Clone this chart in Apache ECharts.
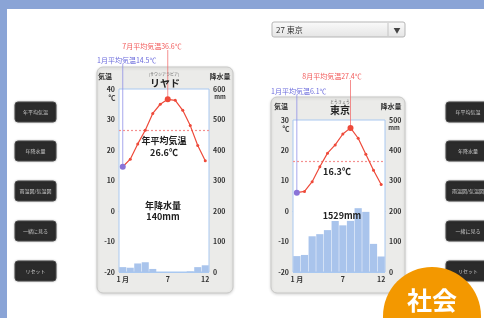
<!DOCTYPE html>
<html>
<head>
<meta charset="utf-8">
<script src="https://cdn.jsdelivr.net/npm/echarts@6/dist/echarts.min.js"></script>
<style>
  html, body { margin: 0; padding: 0; background: #fff; }
  #main { width: 484px; height: 318px; }
</style>
</head>
<body>
<div id="main"></div>
<script>
// ========== データ ==========
const months = ["1", "2", "3", "4", "5", "6", "7", "8", "9", "10", "11", "12"];
const monthLabels = ["1 月", "", "", "", "", "", "7", "", "", "", "", "12"];

// リヤド
const riyadhTemp = [14.5, 17.0, 22.0, 26.5, 32.0, 35.0, 36.6, 36.3, 33.0, 28.0, 21.5, 16.5];
const riyadhPrec = [16, 14, 28, 32, 10, 0, 0, 0, 0, 2, 16, 22];
const riyadhAnnualTemp = 26.6;
const riyadhAnnualPrec = 140;

// 東京
const tokyoTemp = [6.1, 6.5, 9.7, 14.6, 19.1, 21.8, 25.4, 27.4, 24.0, 18.7, 13.5, 8.8];
const tokyoPrec = [52.3, 56.1, 117.5, 124.5, 137.8, 167.7, 153.5, 168.2, 209.9, 197.8, 92.5, 51.0];
const tokyoAnnualTemp = 16.3;
const tokyoAnnualPrec = 1529;

const leftButtons = ["年平均気温", "年降水量", "雨温図/気温図", "一緒に見る", "リセット"];
const buttonY = [112, 151, 191, 231, 271];

const FONT = '"Noto Sans CJK JP", "Noto Sans", sans-serif';
const RED = "#ee4a3a";
const BLUE = "#6c6cdc";
const GRID_LINE = "#a9c8f0";

// ========== 軸・系列 ==========
function xAxisFor(gridIndex) {
  return {
    type: "category",
    gridIndex,
    data: months,
    axisTick: { show: false },
    axisLine: { lineStyle: { color: GRID_LINE } },
    axisLabel: {
      interval: 0,
      margin: 4,
      fontSize: 7,
      fontWeight: "bold",
      color: "#333",
      fontFamily: FONT,
      formatter: (v, i) => monthLabels[i],
    },
  };
}

function yAxisFor(gridIndex, min, max, interval, right) {
  return {
    type: "value",
    gridIndex,
    min,
    max,
    interval,
    position: right ? "right" : "left",
    axisLine: { show: false },
    axisTick: { show: false },
    splitLine: { show: !right, lineStyle: { color: GRID_LINE, width: 1.2 } },
    axisLabel: {
      margin: 4,
      fontSize: 7,
      fontWeight: "bold",
      color: "#333",
      fontFamily: FONT,
    },
  };
}

function tempSeries(axisIdx, data, annual, peakIdx) {
  return {
    type: "line",
    xAxisIndex: axisIdx,
    yAxisIndex: axisIdx * 2,
    z: 5,
    data: data.map((v, i) => {
      if (i === 0) return { value: v, symbolSize: 6, itemStyle: { color: "#8a74d8" } };
      if (i === peakIdx) return { value: v, symbolSize: 6 };
      return v;
    }),
    symbol: "circle",
    symbolSize: 3,
    lineStyle: { color: RED, width: 1.2 },
    itemStyle: { color: RED },
    markLine: {
      silent: true,
      symbol: "none",
      label: { show: false },
      lineStyle: { type: [2, 2], color: "#f49090", width: 1.2 },
      data: [{ yAxis: annual }],
    },
  };
}

function precSeries(axisIdx, data) {
  return {
    type: "bar",
    xAxisIndex: axisIdx,
    yAxisIndex: axisIdx * 2 + 1,
    z: 2,
    data,
    barCategoryGap: "6%",
    itemStyle: { color: "#a9c4ec" },
  };
}

const grids = [
  { left: 119, top: 89, width: 90, height: 183 },
  { left: 293, top: 120, width: 92, height: 152 },
].map((g) => ({ ...g, show: true, backgroundColor: "#fff", borderColor: GRID_LINE, borderWidth: 1, z: 1 }));

// ========== 背景・部品 ==========
function text(x, y, str, style) {
  return {
    type: "text",
    z: 10,
    x,
    y,
    style: Object.assign(
      { text: str, fontFamily: FONT, fontSize: 7, fill: "#333", align: "center", verticalAlign: "middle" },
      style,
    ),
  };
}

function panel(x, y, w, h) {
  return {
    type: "rect",
    z: -5,
    shape: { x, y, width: w, height: h, r: 6 },
    style: { fill: "#ebebe9", stroke: "#c9c9c7", lineWidth: 1, shadowBlur: 3, shadowColor: "rgba(0,0,0,0.15)", shadowOffsetY: 1 },
  };
}

function baseGraphics() {
  const g = [];
  g.push({ type: "rect", z: -20, shape: { x: 0, y: 0, width: 484, height: 318 }, style: { fill: "#8aa4d6" } });
  g.push({ type: "rect", z: -19, shape: { x: 7, y: 9, width: 477, height: 309 }, style: { fill: "#fff" } });

  // パネル
  g.push(panel(97, 67, 136, 226));
  g.push(panel(271, 97, 134, 196));

  const big = { fontSize: 9, fontWeight: "bold", fill: "#222" };

  // リヤド 見出し
  g.push(text(105, 76, "気温", { fontWeight: "bold" }));
  g.push(text(220, 76, "降水量", { fontWeight: "bold" }));
  g.push(text(164, 74, "(サウジアラビア)", { fontSize: 4, fill: "#666" }));
  g.push(text(165, 83, "リヤド", { fontSize: 10, fontWeight: "bold", fill: "#222" }));
  g.push(text(112, 97, "℃", { fontSize: 7, fontWeight: "bold" }));
  g.push(text(220, 97, "mm", { fontSize: 6, fontWeight: "bold" }));
  g.push(text(164, 141, "年平均気温", big));
  g.push(text(164, 153, riyadhAnnualTemp.toFixed(1) + "℃", big));
  g.push(text(163, 206, "年降水量", big));
  g.push(text(163, 217, riyadhAnnualPrec + "mm", big));
  g.push(text(152, 46, "7月平均気温" + riyadhTemp[6] + "℃", { fill: "#f25a5a" }));
  g.push(text(97, 60, "1月平均気温" + riyadhTemp[0] + "℃", { fill: BLUE, align: "left" }));

  // 東京 見出し
  g.push(text(281, 106, "気温", { fontWeight: "bold" }));
  g.push(text(391, 106, "降水量", { fontWeight: "bold" }));
  g.push(text(340, 102, "とうきょう", { fontSize: 4, fill: "#666" }));
  g.push(text(340, 110, "東京", { fontSize: 10, fontWeight: "bold", fill: "#222" }));
  g.push(text(286, 128, "℃", { fontSize: 7, fontWeight: "bold" }));
  g.push(text(394, 128, "mm", { fontSize: 6, fontWeight: "bold" }));
  g.push(text(337, 172, tokyoAnnualTemp.toFixed(1) + "℃", big));
  g.push(text(342, 216, tokyoAnnualPrec + "mm", big));
  g.push(text(332, 76, "8月平均気温" + tokyoTemp[7] + "℃", { fill: "#f25a5a" }));
  g.push(text(271, 91, "1月平均気温" + tokyoTemp[0] + "℃", { fill: BLUE, align: "left" }));

  // プルダウン
  g.push({
    type: "rect",
    shape: { x: 272, y: 22, width: 133, height: 15, r: 2 },
    style: {
      stroke: "#b5b5b5",
      lineWidth: 1,
      fill: new echarts.graphic.LinearGradient(0, 0, 0, 1, [
        { offset: 0, color: "#fbfbfb" },
        { offset: 1, color: "#e4e4e4" },
      ]),
    },
  });
  g.push({ type: "line", shape: { x1: 388, y1: 23, x2: 388, y2: 36 }, style: { stroke: "#c4c4c4" } });
  g.push(text(276, 30, "27 東京", { fontSize: 8, align: "left", fill: "#333" }));
  g.push(text(397, 30, "▼", { fontSize: 7, fill: "#444" }));

  // ボタン
  buttonY.forEach((y, i) => {
    g.push({
      type: "rect",
      shape: { x: 15, y: y - 10, width: 41, height: 20, r: 3 },
      style: { fill: "#2b2b2b", stroke: "#4a4a4a", shadowBlur: 2, shadowColor: "rgba(0,0,0,0.3)" },
    });
    g.push(text(35.5, y, leftButtons[i], { fontSize: 5, fill: "#c8c8c8" }));
    g.push({
      type: "rect",
      shape: { x: 446, y: y - 10, width: 44, height: 20, r: 3 },
      style: { fill: "#2b2b2b", stroke: "#4a4a4a", shadowBlur: 2, shadowColor: "rgba(0,0,0,0.3)" },
    });
    g.push(text(468, y, leftButtons[i], { fontSize: 5, fill: "#c8c8c8" }));
  });

  // 社会 バッジ
  g.push({ type: "circle", z: 50, shape: { cx: 432, cy: 316, r: 49 }, style: { fill: "#f39800" } });
  g.push(Object.assign(text(432, 300, "社会", { fontSize: 25, fontWeight: "bold", fill: "#fff" }), { z: 51 }));
  return g;
}

// ========== 描画 ==========
const chart = echarts.init(document.getElementById("main"), null, { renderer: "canvas" });

chart.setOption({
  animation: false,
  grid: grids,
  xAxis: [xAxisFor(0), xAxisFor(1)],
  yAxis: [
    yAxisFor(0, -20, 40, 10, false),
    yAxisFor(0, 0, 600, 100, true),
    yAxisFor(1, -20, 30, 10, false),
    yAxisFor(1, 0, 500, 100, true),
  ],
  series: [
    precSeries(0, riyadhPrec),
    tempSeries(0, riyadhTemp, riyadhAnnualTemp, 6),
    precSeries(1, tokyoPrec),
    tempSeries(1, tokyoTemp, tokyoAnnualTemp, 7),
  ],
});

// 月の点から見出しまでの縦線（座標はライブラリの軸から取る）
function guide(gridIdx, monthIdx, value, topY, color) {
  const p = chart.convertToPixel({ xAxisIndex: gridIdx, yAxisIndex: gridIdx * 2 }, [monthIdx, value]);
  return {
    type: "line",
    z: 4,
    shape: { x1: p[0], y1: topY, x2: p[0], y2: p[1] },
    style: { stroke: color, lineWidth: 1, opacity: 0.75 },
  };
}

const guides = [
  guide(0, 0, riyadhTemp[0], 64, "#8a8ae6"),
  guide(0, 6, riyadhTemp[6], 50, "#f26a6a"),
  guide(1, 0, tokyoTemp[0], 95, "#8a8ae6"),
  guide(1, 7, tokyoTemp[7], 80, "#f26a6a"),
];

chart.setOption({ graphic: baseGraphics().concat(guides) });

window.addEventListener("resize", () => chart.resize());
</script>
</body>
</html>
